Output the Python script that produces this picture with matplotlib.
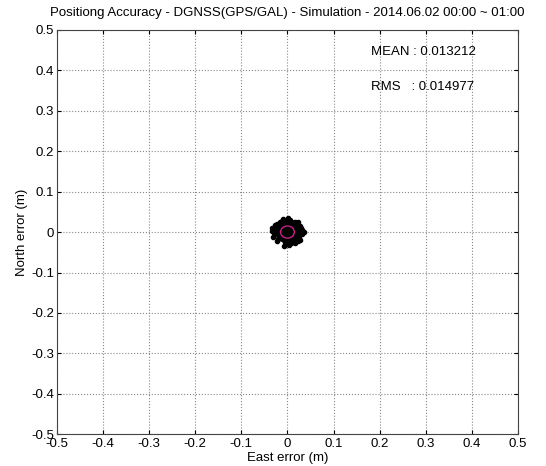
import matplotlib

matplotlib.use("Agg")
import matplotlib.pyplot as plt
from matplotlib.patches import Circle

plt.rcParams["font.family"] = ["Liberation Sans", "DejaVu Sans"]

# horizontal position error samples (m)
east = [0.002, -0.011, 0.018, -0.024, 0.009, -0.003, 0.026, -0.017, 0.005, -0.029,
        0.014, -0.008, 0.021, -0.020, 0.000, 0.031, -0.013, 0.011, -0.034, 0.007,
        -0.005, 0.024, -0.026, 0.016, -0.001, 0.029, -0.015, 0.004, -0.022, 0.019,
        -0.010, 0.035, -0.031, 0.012, -0.006, 0.023, -0.018, 0.003, 0.027, -0.027,
        0.008, -0.012, 0.017, -0.002, 0.032, -0.023, 0.013, -0.016, 0.006, -0.033,
        0.020, -0.007, 0.028, -0.019, 0.001, 0.015, -0.025, 0.010, -0.004, 0.022]
north = [0.027, -0.014, 0.010, 0.016, -0.022, 0.004, -0.008, 0.025, 0.030, -0.003,
         -0.020, 0.012, 0.019, -0.016, -0.029, 0.006, 0.022, -0.005, 0.002, 0.017,
         -0.024, -0.015, 0.009, 0.026, 0.014, 0.011, -0.010, -0.031, 0.021, -0.012,
         0.033, 0.001, -0.011, 0.008, -0.018, 0.024, 0.005, 0.020, -0.019, 0.018,
         -0.027, 0.028, -0.026, 0.007, -0.004, -0.021, 0.016, 0.013, -0.013, 0.009,
         0.003, -0.034, 0.015, -0.007, 0.035, 0.023, -0.002, -0.017, 0.011, -0.023]

mean_err = 0.013212
rms_err = 0.014977
ticks = [-0.5, -0.4, -0.3, -0.2, -0.1, 0, 0.1, 0.2, 0.3, 0.4, 0.5]
tick_labels = ["-0.5", "-0.4", "-0.3", "-0.2", "-0.1", "0", "0.1", "0.2", "0.3", "0.4", "0.5"]

fig = plt.figure(figsize=(5.46, 4.66), dpi=100)
ax = fig.add_axes([0.104, 0.068, 0.845, 0.868])

ax.plot(east, north, "-", color="black", lw=1.8, marker=".", ms=6, zorder=2)
ax.add_patch(Circle((0, 0), rms_err, fill=False, edgecolor="#c8208c", lw=1.0, zorder=3))

ax.set_xlim(-0.5, 0.5)
ax.set_ylim(-0.5, 0.5)
ax.set_xticks(ticks, tick_labels)
ax.set_yticks(ticks, tick_labels)
ax.tick_params(direction="in", length=3, labelsize=9.5, top=True, right=True, pad=2)
ax.tick_params(axis="x", pad=3)
ax.grid(True, linestyle=":", color="#888888", lw=0.8)
for s in ax.spines.values():
    s.set_color("#444444")
    s.set_linewidth(0.8)

ax.set_title("Positiong Accuracy - DGNSS(GPS/GAL) - Simulation - 2014.06.02 00:00 ~ 01:00",
             fontsize=9.5, pad=10)
ax.set_xlabel("East error (m)", fontsize=9.5, labelpad=1)
ax.set_ylabel("North error (m)", fontsize=9.5, labelpad=2)

ax.text(0.182, 0.445, f"MEAN : {mean_err:.6f}", fontsize=9.5, va="center")
ax.text(0.182, 0.359, f"RMS   : {rms_err:.6f}", fontsize=9.5, va="center")

fig.savefig("out.png", dpi=100)
